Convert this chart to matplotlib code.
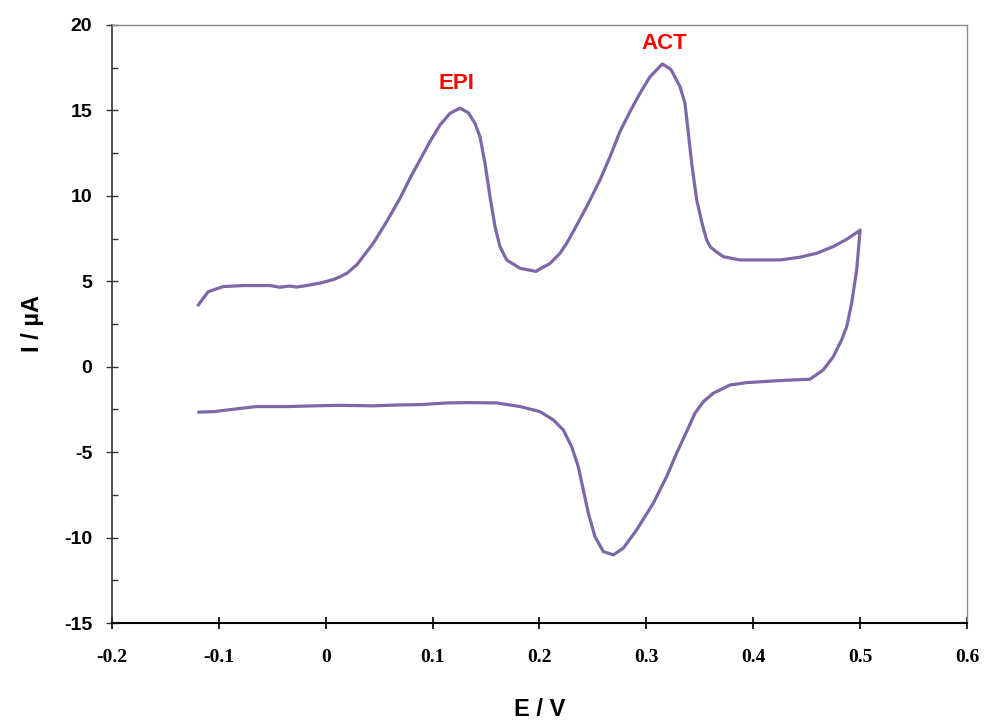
import matplotlib
matplotlib.use("Agg")
import matplotlib.pyplot as plt
from matplotlib.ticker import MultipleLocator

# Forward (anodic) scan
e_forward = [-0.120, -0.110, -0.096, -0.077, -0.052, -0.043, -0.034, -0.027, -0.018, -0.005,
             0.007, 0.013, 0.020, 0.029, 0.0445, 0.057, 0.0695, 0.0788, 0.0882, 0.0975,
             0.1069, 0.1163, 0.1256, 0.1334, 0.1396, 0.1443, 0.1490, 0.1537, 0.1584, 0.1630,
             0.1693, 0.1818, 0.1965, 0.2100, 0.2192, 0.2255, 0.2316, 0.2442, 0.2566, 0.2660,
             0.2753, 0.2847, 0.2940, 0.3034, 0.3150, 0.3230, 0.3315, 0.3361, 0.3393, 0.3424,
             0.3471, 0.3525, 0.3564, 0.3600, 0.3650, 0.3720, 0.3876, 0.4251, 0.4438, 0.4594,
             0.4749, 0.4875, 0.4983, 0.5000]
i_forward = [3.55, 4.39, 4.69, 4.75, 4.75, 4.65, 4.72, 4.66, 4.75, 4.90,
             5.10, 5.25, 5.48, 5.96, 7.23, 8.49, 9.86, 11.03, 12.10, 13.17,
             14.15, 14.83, 15.13, 14.87, 14.25, 13.46, 11.91, 9.95, 8.20, 7.03,
             6.25, 5.76, 5.58, 6.05, 6.64, 7.23, 7.91, 9.37, 10.93, 12.29,
             13.76, 14.93, 16.00, 16.97, 17.72, 17.40, 16.39, 15.42, 13.66, 11.91,
             9.76, 8.30, 7.42, 7.00, 6.75, 6.44, 6.25, 6.25, 6.41, 6.64,
             7.03, 7.46, 7.91, 8.00]

# Reverse (cathodic) scan
e_reverse = [0.4968, 0.4921, 0.4875, 0.4827, 0.4749, 0.4655, 0.4531, 0.4251, 0.3939, 0.3783,
             0.3689, 0.3626, 0.3533, 0.3455, 0.3377, 0.3283, 0.3190, 0.3065, 0.2909, 0.2784,
             0.2691, 0.2597, 0.2519, 0.2457, 0.2410, 0.2363, 0.2301, 0.2223, 0.2129, 0.2005,
             0.1818, 0.1600, 0.1320, 0.1130, 0.0880, 0.0670, 0.0440, 0.0133, -0.0116, -0.0335,
             -0.0646, -0.0865, -0.1052, -0.1202]
i_reverse = [5.66, 3.72, 2.35, 1.57, 0.59, -0.19, -0.73, -0.81, -0.93, -1.07,
             -1.36, -1.55, -2.05, -2.72, -3.80, -5.06, -6.43, -7.99, -9.55, -10.62,
             -11.01, -10.82, -9.94, -8.57, -7.21, -5.85, -4.68, -3.70, -3.11, -2.63,
             -2.33, -2.12, -2.10, -2.12, -2.22, -2.24, -2.29, -2.26, -2.29, -2.33,
             -2.33, -2.49, -2.63, -2.66]

peak_labels = ["EPI", "ACT"]
peak_label_e = [0.122, 0.317]
peak_label_i = [16.6, 18.9]

x_ticks = [-0.2, -0.1, 0, 0.1, 0.2, 0.3, 0.4, 0.5, 0.6]
x_ticklabels = ["-0.2", "-0.1", "0", "0.1", "0.2", "0.3", "0.4", "0.5", "0.6"]
y_ticks = [-15, -10, -5, 0, 5, 10, 15, 20]
y_ticklabels = ["-15", "-10", "-5", "0", "5", "10", "15", "20"]

fig = plt.figure(figsize=(9.85, 7.22), dpi=100)
ax = fig.add_axes([0.1137, 0.1371, 0.868, 0.8283])

line_color = "#7E66A8"
ax.plot(e_forward + e_reverse, i_forward + i_reverse, color=line_color, lw=2.3,
        solid_joinstyle="round", solid_capstyle="butt")

for lab, xe, yi in zip(peak_labels, peak_label_e, peak_label_i):
    ax.text(xe, yi, lab, color="#FF0000", fontsize=16, fontweight="bold",
            family="Liberation Sans", ha="center", va="center")

ax.set_xlim(-0.2, 0.6)
ax.set_ylim(-15, 20)
ax.set_xticks(x_ticks)
ax.set_xticklabels(x_ticklabels, family="Liberation Serif", fontweight="bold", fontsize=14)
ax.set_yticks(y_ticks)
ax.set_yticklabels(y_ticklabels, family="Liberation Sans", fontweight="bold", fontsize=14)
ax.yaxis.set_minor_locator(MultipleLocator(2.5))

ax.tick_params(axis="x", which="major", direction="inout", length=9, width=1.2,
               color="black", pad=14)
ax.tick_params(axis="y", which="major", direction="inout", length=8.6, width=1.0,
               color="#333333", pad=10)
ax.tick_params(axis="y", which="minor", direction="in", length=4.3, width=1.0,
               color="#333333")

ax.spines["left"].set_color("#333333")
ax.spines["left"].set_linewidth(1.2)
ax.spines["bottom"].set_color("black")
ax.spines["bottom"].set_linewidth(1.5)
ax.spines["top"].set_color("#8C8C8C")
ax.spines["top"].set_linewidth(1.0)
ax.spines["right"].set_color("#8C8C8C")
ax.spines["right"].set_linewidth(1.0)

ax.set_xlabel("E / V", family="Liberation Sans", fontweight="bold", fontsize=17,
              labelpad=23)
ax.set_ylabel("I / µA", family="Liberation Sans", fontweight="bold", fontsize=17,
              labelpad=14)

fig.savefig("out.png", dpi=100)
